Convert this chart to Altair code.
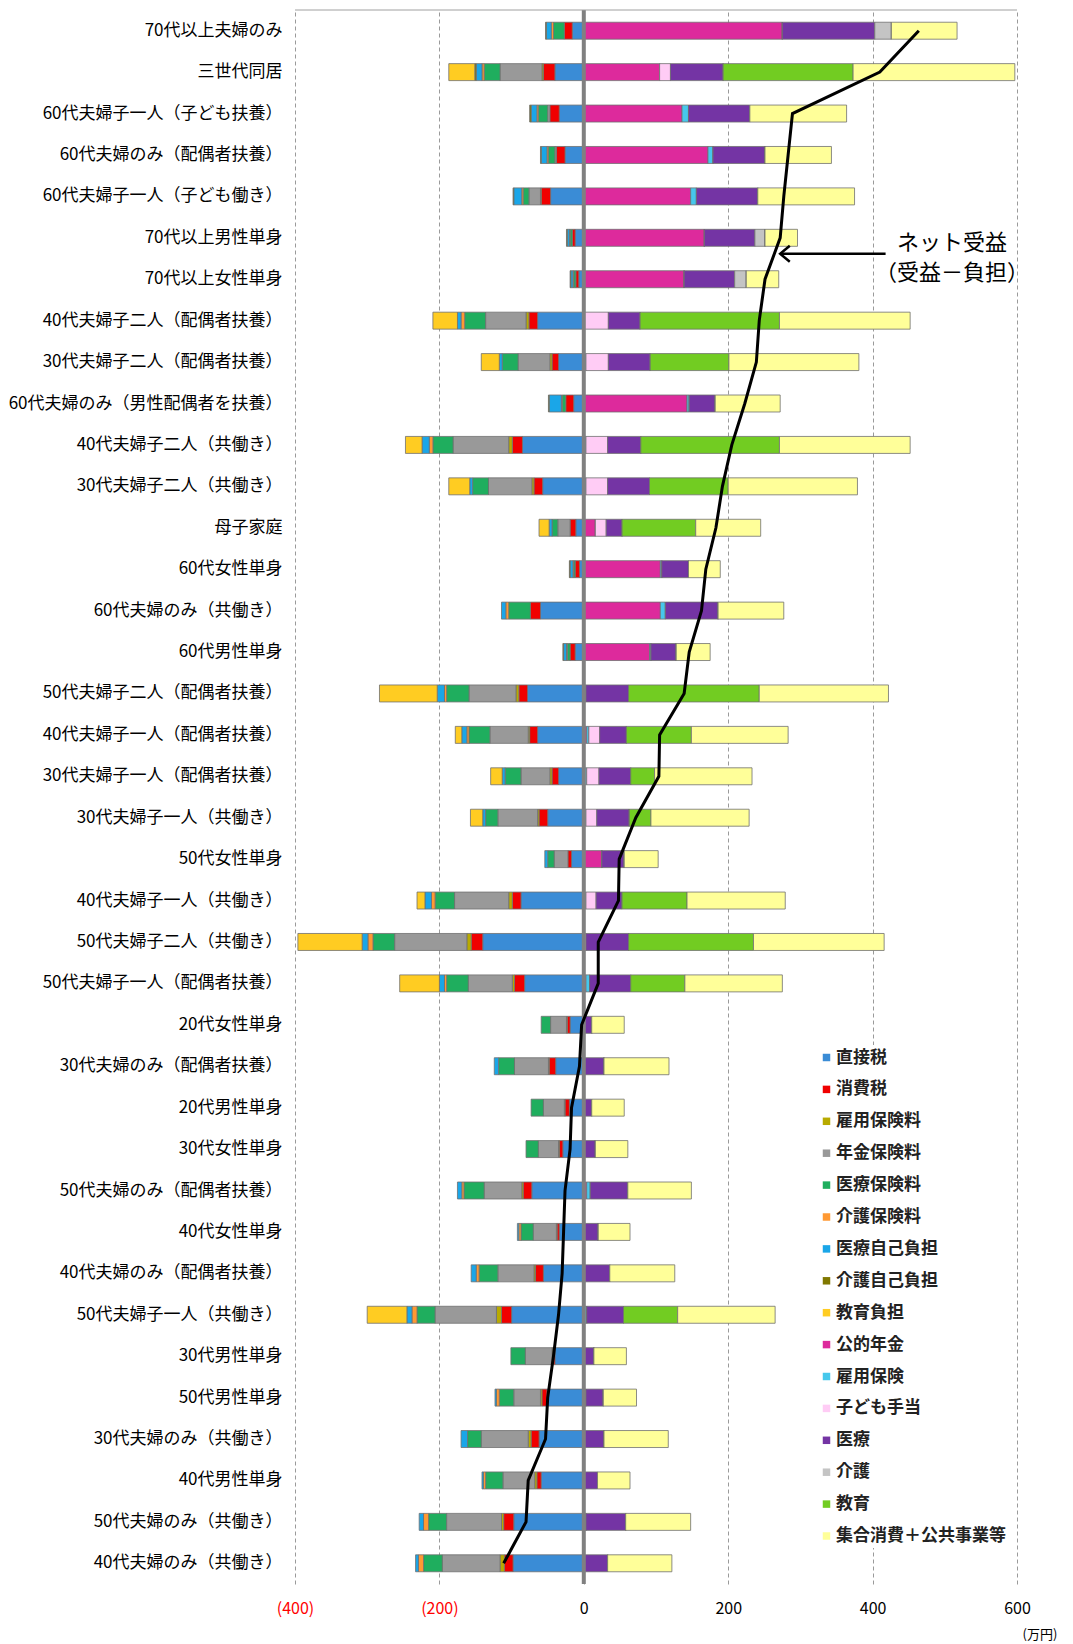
import altair as alt
import pandas as pd

categories = [
    "70代以上夫婦のみ", "三世代同居", "60代夫婦子一人（子ども扶養）", "60代夫婦のみ（配偶者扶養）",
    "60代夫婦子一人（子ども働き）", "70代以上男性単身", "70代以上女性単身", "40代夫婦子二人（配偶者扶養）",
    "30代夫婦子二人（配偶者扶養）", "60代夫婦のみ（男性配偶者を扶養）", "40代夫婦子二人（共働き）",
    "30代夫婦子二人（共働き）", "母子家庭", "60代女性単身", "60代夫婦のみ（共働き）", "60代男性単身",
    "50代夫婦子二人（配偶者扶養）", "40代夫婦子一人（配偶者扶養）", "30代夫婦子一人（配偶者扶養）",
    "30代夫婦子一人（共働き）", "50代女性単身", "40代夫婦子一人（共働き）", "50代夫婦子二人（共働き）",
    "50代夫婦子一人（配偶者扶養）", "20代女性単身", "30代夫婦のみ（配偶者扶養）", "20代男性単身",
    "30代女性単身", "50代夫婦のみ（配偶者扶養）", "40代女性単身", "40代夫婦のみ（配偶者扶養）",
    "50代夫婦子一人（共働き）", "30代男性単身", "50代男性単身", "30代夫婦のみ（共働き）",
    "40代男性単身", "50代夫婦のみ（共働き）", "40代夫婦のみ（共働き）",
]

# burdens (万円, shown on the negative side)
chokusetsu_zei = [16, 40, 34, 26, 46, 12, 7, 64, 35, 14, 85, 57, 11, 6, 60, 12, 78, 64, 35, 50, 17, 87, 140, 82, 19, 39, 20, 29, 72, 34, 56, 100, 40, 51, 62, 59, 97, 98]
shohi_zei = [11, 16, 13, 12, 13, 4, 4, 12, 9, 11, 14, 12, 8, 6, 14, 7, 12, 11, 9, 12, 5, 12, 16, 14, 4, 9, 6, 5, 12, 3, 11, 14, 3, 7, 11, 6, 14, 12]
koyo_hokenryo = [0, 2, 0, 0, 1, 0, 0, 4, 3, 0, 5, 3, 0, 0, 0, 0, 4, 2, 3, 2, 0, 5, 6, 3, 1, 1, 1, 1, 2, 1, 2, 7, 1, 2, 4, 3, 3, 6]
nenkin_hokenryo = [0, 58, 3, 2, 16, 0, 0, 56, 44, 0, 77, 60, 17, 0, 0, 0, 65, 53, 40, 55, 19, 75, 100, 61, 22, 47, 29, 28, 52, 32, 50, 85, 37, 37, 65, 44, 76, 80]
iryo_hokenryo = [15, 22, 13, 9, 8, 3, 3, 29, 22, 5, 28, 22, 8, 2, 30, 4, 31, 29, 22, 17, 9, 27, 30, 30, 13, 22, 17, 17, 28, 17, 26, 25, 20, 20, 19, 24, 25, 26]
kaigo_hokenryo = [3, 3, 2, 2, 2, 1, 1, 5, 0, 1, 5, 0, 0, 1, 4, 1, 3, 3, 0, 0, 0, 5, 7, 3, 0, 0, 0, 0, 3, 3, 4, 7, 0, 4, 0, 3, 7, 7]
iryo_jiko = [7, 8, 8, 8, 11, 3, 3, 5, 4, 17, 10, 4, 4, 4, 6, 4, 10, 7, 4, 4, 4, 9, 8, 7, 0, 6, 0, 0, 6, 2, 7, 7, 0, 2, 9, 2, 6, 4]
kaigo_jiko = [1, 2, 2, 1, 1, 1, 1, 0, 0, 1, 0, 0, 0, 1, 0, 1, 0, 0, 0, 0, 0, 0, 0, 0, 0, 0, 0, 0, 0, 0, 0, 0, 0, 0, 0, 0, 0, 0]
kyoiku_futan = [0, 36, 0, 0, 0, 0, 0, 34, 25, 0, 23, 29, 14, 0, 0, 0, 80, 9, 16, 17, 0, 11, 89, 55, 0, 0, 0, 0, 0, 0, 0, 55, 0, 0, 0, 0, 0, 0]

# benefits (万円, positive side)
koteki_nenkin = [275, 105, 136, 172, 148, 167, 139, 0, 0, 143, 0, 0, 16, 106, 106, 91, 0, 4, 0, 0, 25, 0, 0, 3, 0, 0, 0, 0, 4, 0, 0, 0, 0, 3, 0, 0, 0, 0]
koyo_hoken = [0, 0, 9, 7, 8, 0, 0, 0, 3, 3, 3, 3, 0, 2, 7, 2, 3, 3, 4, 3, 0, 3, 0, 5, 0, 0, 0, 0, 5, 0, 0, 4, 0, 0, 0, 0, 3, 0]
kodomo_teate = [0, 15, 0, 0, 0, 0, 0, 34, 31, 0, 30, 30, 15, 0, 0, 0, 0, 15, 17, 15, 0, 14, 3, 0, 0, 0, 0, 0, 0, 0, 0, 0, 0, 0, 0, 0, 0, 0]
iryo = [128, 73, 85, 72, 85, 70, 70, 44, 58, 36, 46, 58, 22, 37, 73, 35, 59, 37, 44, 45, 31, 36, 59, 57, 11, 28, 11, 16, 52, 20, 36, 51, 14, 24, 28, 19, 55, 33]
kaigo = [23, 0, 0, 0, 0, 14, 16, 0, 0, 0, 0, 0, 0, 0, 0, 0, 0, 0, 0, 0, 0, 0, 0, 0, 0, 0, 0, 0, 0, 0, 0, 0, 0, 0, 0, 0, 0, 0]
kyoiku = [0, 180, 0, 0, 0, 0, 0, 193, 109, 0, 192, 109, 102, 0, 0, 0, 181, 90, 33, 30, 0, 90, 173, 75, 0, 0, 0, 0, 0, 0, 0, 75, 0, 0, 0, 0, 0, 0]
shugo_shohi = [91, 224, 134, 92, 134, 45, 45, 181, 180, 90, 181, 179, 90, 44, 91, 47, 179, 134, 135, 136, 47, 136, 181, 135, 45, 90, 45, 45, 88, 44, 90, 135, 45, 46, 89, 45, 90, 89]

burden_names = ["直接税", "消費税", "雇用保険料", "年金保険料", "医療保険料", "介護保険料", "医療自己負担", "介護自己負担", "教育負担"]
burden_series = [chokusetsu_zei, shohi_zei, koyo_hokenryo, nenkin_hokenryo, iryo_hokenryo, kaigo_hokenryo, iryo_jiko, kaigo_jiko, kyoiku_futan]
benefit_names = ["公的年金", "雇用保険", "子ども手当", "医療", "介護", "教育", "集合消費＋公共事業等"]
benefit_series = [koteki_nenkin, koyo_hoken, kodomo_teate, iryo, kaigo, kyoiku, shugo_shohi]

colors = ["#3a8cd6", "#f00000", "#b8aa00", "#999999", "#1fae5e", "#ff9933", "#1aa6e8", "#807800", "#ffcc22",
          "#dd2a9c", "#46c8ec", "#ffccf5", "#7434a4", "#c4c4c4", "#72cc22", "#ffff99"]

comp_names = burden_names + benefit_names
rows = []
for i, (name, vals) in enumerate(zip(burden_names, burden_series)):
    for r, v in enumerate(vals):
        rows.append({"cat": categories[r], "comp": name, "idx": i, "value": -v})
for j, (name, vals) in enumerate(zip(benefit_names, benefit_series)):
    for r, v in enumerate(vals):
        rows.append({"cat": categories[r], "comp": name, "idx": len(burden_names) + j, "value": v})
df = pd.DataFrame(rows)

net_vals = []
for r in range(len(categories)):
    b = sum(s[r] for s in benefit_series)
    c = sum(s[r] for s in burden_series)
    net_vals.append(b - c)
net_df = pd.DataFrame({"cat": categories, "net": net_vals, "ord": list(range(len(categories)))})

FONT = "Noto Sans CJK JP"
W, H = 722, 1574

yenc = alt.Y("cat:N", sort=categories,
             scale=alt.Scale(paddingInner=0.59, paddingOuter=0.295),
             axis=alt.Axis(title=None, labelFontSize=17, labelPadding=13, ticks=False, domain=False,
                           labelColor="black", labelFont=FONT, labelLimit=400))

bars = alt.Chart(df).mark_bar(stroke="#707070", strokeWidth=0.8).encode(
    x=alt.X("value:Q", stack="zero",
            scale=alt.Scale(domain=[-400, 600], nice=False),
            axis=alt.Axis(values=[-400, -200, 0, 200, 400, 600], title="(万円)", grid=True,
                          gridDash=[4, 3], gridColor="#9a9a9a", gridWidth=1, domain=False, ticks=False,
                          labelPadding=16, labelFontSize=16, labelFont=FONT, labelFlush=False,
                          labelExpr="datum.value < 0 ? '(' + format(-datum.value, 'd') + ')' : format(datum.value, 'd')",
                          labelColor={"condition": {"test": "datum.value < 0", "value": "#ff0000"}, "value": "black"},
                          titleX=727, titleY=44, titleAlign="left", titleAnchor="start",
                          titleFontSize=13, titleFontWeight="normal", titleFont=FONT, titleColor="black")),
    y=yenc,
    color=alt.Color("comp:N", scale=alt.Scale(domain=comp_names, range=colors),
                    legend=alt.Legend(orient="none", legendX=519, legendY=1035, title=None,
                                      fillColor="white", padding=4, labelFontSize=17, labelFont=FONT,
                                      labelFontWeight="bold", labelLimit=300,
                                      labelColor="#222222", symbolType="square", symbolSize=56,
                                      symbolStrokeWidth=0, rowPadding=13.9, labelOffset=1)),
    order=alt.Order("idx:Q"),
)

zero = alt.Chart(pd.DataFrame({"z": [0]})).mark_rule(color="#808080", strokeWidth=4).encode(x="z:Q")

top = alt.Chart(pd.DataFrame({"z": [0]})).mark_rule(color="#a0a0a0", strokeWidth=1).encode(
    y=alt.value(0), x=alt.value(0), x2=alt.value(W))

line = alt.Chart(net_df).mark_line(color="black", strokeWidth=3).encode(
    x="net:Q", y=alt.Y("cat:N", sort=categories), order=alt.Order("ord:Q"))

arrow_df = pd.DataFrame({"cat": ["70代以上男性単身"], "x": [272], "x2": [418]})
arrow = alt.Chart(arrow_df).mark_rule(color="black", strokeWidth=2.5, yOffset=16).encode(
    x="x:Q", x2="x2:Q", y=alt.Y("cat:N", sort=categories))
head = alt.Chart(arrow_df).mark_point(shape="M 1.2 -1 L 0 0 L 1.2 1", filled=False, size=256,
                                      strokeWidth=2.5, color="black", yOffset=16, opacity=1).encode(
    x="x:Q", y=alt.Y("cat:N", sort=categories))

ann_df = pd.DataFrame({"cat": ["70代以上男性単身"], "x": [510], "t1": ["ネット受益"], "t2": ["（受益－負担）"]})
ann1 = alt.Chart(ann_df).mark_text(fontSize=22, font=FONT, color="black", align="center", yOffset=5).encode(
    x="x:Q", y=alt.Y("cat:N", sort=categories), text="t1:N")
ann2 = alt.Chart(ann_df).mark_text(fontSize=22, font=FONT, color="black", align="center", yOffset=35).encode(
    x="x:Q", y=alt.Y("cat:N", sort=categories), text="t2:N")

chart = alt.layer(bars, zero, top, line, arrow, head, ann1, ann2).properties(
    width=W, height=H, background="white", padding=0
).configure_view(stroke=None)

chart.save("out.html", embed_options={"renderer": "svg", "actions": False})
